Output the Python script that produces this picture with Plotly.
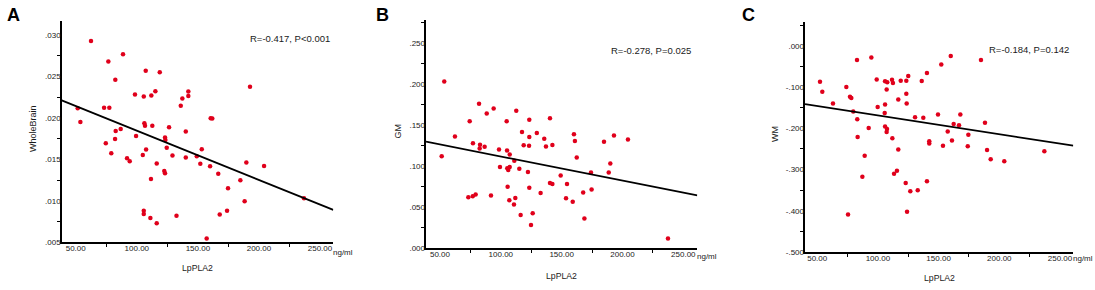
import plotly.graph_objects as go

# ---------------- data ----------------
# Panel A: LpPLA2 vs WholeBrain
a_x = [62.5, 88.7, 76.7, 107.3, 118.8, 82.4, 98.5, 105.7, 111.9, 115.2, 136.0, 51.6, 73.2, 77.5,
       53.8, 106.2, 106.7, 112.7, 126.4, 86.8, 82.7, 99.4, 123.1, 123.4, 82.2, 74.6, 124.5, 107.6,
       79.1, 104.9, 129.2, 92.0, 94.2, 116.3, 122.5, 123.1, 111.6, 105.7, 105.7, 111.1, 116.3, 132.5,
       192.7, 142.2, 142.2, 137.3, 160.5, 161.8, 140.1, 153.2, 140.1, 149.1, 152.0, 160.0, 189.7,
       204.2, 166.7, 184.8, 174.7, 236.9, 188.3, 167.9, 173.9, 157.2]
a_y = [.0293, .0277, .02682, .02573, .02553, .02462, .02285, .02262, .02273, .02325, .02149, .0212,
       .02125, .02125, .01952, .01937, .01908, .01908, .01889, .0187, .01846, .01784, .01767, .01736,
       .01748, .01696, .01642, .01622, .01575, .01555, .01548, .01516, .01481, .01454, .01363, .01336,
       .01265, .00884, .00842, .00794, .00731, .00821, .02379, .0232, .02266, .02238, .01999, .01996,
       .01838, .01626, .01524, .0154, .01449, .01419, .01466, .01422, .01328, .01249, .01155, .01033,
       .00998, .00837, .00884, .00547]
a_fit_x = [38.5, 260.9]
a_fit_y = [.02215, .00892]

# Panel B: LpPLA2 vs GM
b_x = [53.5, 82.1, 94.1, 88.4, 112.7, 74.4, 104.8, 123.4, 140.4, 62.3, 117.4, 129.6, 123.4, 135.7,
       77.1, 82.9, 82.6, 86.7, 118.8, 123.2, 137.1, 98.5, 105.1, 107.3, 111.1, 51.4, 99.3, 105.3,
       106.1, 107.3, 115.2, 122.3, 105.6, 123.4, 132.7, 73.3, 76.9, 79.3, 91.9, 107.0, 111.9, 110.8,
       116.3, 126.2, 124.8, 142.4, 160.1, 160.9, 162.4, 184.8, 193.0, 204.5, 190.0, 174.1, 188.7,
       149.2, 140.4, 142.4, 154.4, 174.6, 167.7, 153.6, 159.1, 168.7, 237.4]
b_y = [.2036, .1765, .1706, .1646, .1679, .1551, .1551, .1567, .1587, .1364, .142, .1408, .1357, .1337,
       .1281, .1265, .1218, .1238, .1257, .125, .1242, .1206, .1194, .1146, .1067, .1123, .0992, .0976,
       .0956, .0992, .0971, .0932, .075, .0738, .0674, .0623, .0635, .0658, .0643, .0587, .0614, .0536,
       .0408, .0429, .0286, .1262, .1393, .131, .1107, .1301, .1376, .1329, .1036, .0924, .0924, .0888,
       .0798, .0786, .0786, .0718, .0682, .0611, .0567, .0364, .0119]
b_fit_x = [38.5, 261.5]
b_fit_y = [.1301, .0646]

# Panel C: LpPLA2 vs WM
c_x = [82.8, 94.6, 52.3, 99.0, 105.9, 107.7, 111.6, 112.4, 118.8, 123.4, 125.0, 74.0, 54.2, 107.2,
       77.0, 78.1, 123.4, 116.8, 63.0, 105.9, 123.7, 99.8, 79.7, 105.6, 83.0, 130.6, 105.9, 107.5,
       92.4, 107.2, 83.3, 111.9, 116.8, 89.1, 115.7, 113.3, 87.2, 122.9, 126.7, 75.4, 124.0,
       160.0, 184.9, 152.2, 140.4, 136.1, 137.4, 149.5, 167.9, 162.4, 166.8, 188.2, 157.5, 174.5,
       142.3, 142.3, 161.0, 153.6, 174.0, 189.9, 237.1, 192.9, 204.1, 132.8, 140.4]
c_y = [-.0344, -.0283, -.0873, -.0816, -.0863, -.0887, -.0825, -.0903, -.0849, -.0849, -.0731, -.0998,
       -.1116, -.1061, -.1234, -.1264, -.1163, -.1304, -.1399, -.1422, -.1399, -.1486, -.1594, -.1627,
       -.1783, -.1729, -.1958, -.2019, -.1995, -.209, -.2208, -.2241, -.2514, -.2665, -.3026, -.3097,
       -.3175, -.3325, -.3521, -.4087, -.4017, -.025, -.0344, -.0455, -.066, -.0856, -.1745, -.1665,
       -.1665, -.1894, -.1925, -.1863, -.2075, -.2153, -.2311, -.2366, -.2295, -.242, -.2436, -.2524,
       -.2554, -.275, -.2797, -.3498, -.3278]
c_fit_x = [39.95, 260.95]
c_fit_y = [-.1415, -.242]

x_tickvals = [50, 100, 150, 200, 250]
x_ticktext = ["50.00", "100.00", "150.00", "200.00", "250.00"]
x_minor = [75, 125, 175, 225]

a_tickvals = [.005, .010, .015, .020, .025, .030]
a_ticktext = [".005", ".010", ".015", ".020", ".025", ".030"]
a_minor = [.0075, .0125, .0175, .0225, .0275]

b_tickvals = [0, .05, .10, .15, .20, .25]
b_ticktext = [".000", ".050", ".100", ".150", ".200", ".250"]
b_minor = [.025, .075, .125, .175, .225, .275]

c_tickvals = [-.5, -.4, -.3, -.2, -.1, 0]
c_ticktext = ["-.500", "-.400", "-.300", "-.200", "-.100", ".000"]
c_minor = [-.45, -.35, -.25, -.15, -.05, .05]

# ---------------- layout helpers ----------------
W, H = 1095, 290
FONT = "Liberation Sans, Arial, sans-serif"
RED = "#e0001b"
TXT = "#1a1a1a"

panels = [
    dict(name="A", x=a_x, y=a_y, fx=a_fit_x, fy=a_fit_y, px=(61.7, 333.3), py=(21.7, 246.7),
         xr=[38.5, 260.9], yr=[.005, .03168], tv=a_tickvals, tt=a_ticktext, mn=a_minor,
         ytitle="WholeBrain", ytx=33, stat="R=-0.417, P<0.001", statx=332, staty=39.5,
         letter=(13, 15), xtitle_y=273, ngy=256.5),
    dict(name="B", x=b_x, y=b_y, fx=b_fit_x, fy=b_fit_y, px=(426, 697.3), py=(20.7, 252.7),
         xr=[38.5, 261.5], yr=[0, .2781], tv=b_tickvals, tt=b_ticktext, mn=b_minor,
         ytitle="GM", ytx=398, stat="R=-0.278, P=0.025", statx=693, staty=51.7,
         letter=(382, 15), xtitle_y=280.5, ngy=261.5),
    dict(name="C", x=c_x, y=c_y, fx=c_fit_x, fy=c_fit_y, px=(805, 1073.3), py=(22.7, 256.7),
         xr=[39.95, 260.95], yr=[-.5, .0566], tv=c_tickvals, tt=c_ticktext, mn=c_minor,
         ytitle="WM", ytx=775.7, stat="R=-0.184, P=0.142", statx=1071, staty=50,
         letter=(748, 15), xtitle_y=283, ngy=263),
]

fig = go.Figure()
annotations = []
layout = {}
n = len(panels)
for i, p in enumerate(panels):
    k = "" if i == 0 else str(i + 1)
    kl = str(i + 1 + n)  # label-only overlay axes
    xa, ya = "x" + k, "y" + k
    xl, yl = "x" + kl, "y" + kl
    fig.add_trace(go.Scatter(x=p["x"], y=p["y"], mode="markers", xaxis=xa, yaxis=ya,
                             marker=dict(size=4.5, color=RED, line=dict(width=0)),
                             showlegend=False, hoverinfo="skip"))
    # regression line drawn on the overlay (label) axes, which share the same ranges
    fig.add_trace(go.Scatter(x=p["fx"], y=p["fy"], mode="lines", xaxis=xl, yaxis=yl,
                             line=dict(color="black", width=1.8), showlegend=False,
                             hoverinfo="skip", cliponaxis=False))
    x0, x1 = p["px"]
    y0, y1 = p["py"]
    # base axes: axis line + tick marks between labels
    layout["xaxis" + k] = dict(
        domain=[x0 / W, x1 / W], range=p["xr"], anchor=ya,
        tickmode="array", tickvals=x_minor, ticks="outside", ticklen=3, tickwidth=1.3,
        tickcolor="black", showticklabels=False,
        showline=True, linecolor="black", linewidth=2, showgrid=False, zeroline=False,
    )
    layout["yaxis" + k] = dict(
        domain=[1 - y1 / H, 1 - y0 / H], range=p["yr"], anchor=xa,
        tickmode="array", tickvals=p["mn"], ticks="outside", ticklen=3, tickwidth=1.3,
        tickcolor="black", showticklabels=False,
        showline=True, linecolor="black", linewidth=2, showgrid=False, zeroline=False,
    )
    # overlay axes: labels only
    layout["xaxis" + kl] = dict(
        overlaying=xa, anchor=ya, side="bottom", range=p["xr"],
        tickmode="array", tickvals=x_tickvals, ticktext=x_ticktext, ticks="",
        showline=False, showgrid=False, zeroline=False,
        tickfont=dict(family=FONT, size=8, color=TXT),
    )
    layout["yaxis" + kl] = dict(
        overlaying=ya, anchor=xa, side="left", range=p["yr"],
        tickmode="array", tickvals=p["tv"], ticktext=p["tt"], ticks="",
        showline=False, showgrid=False, zeroline=False,
        tickfont=dict(family=FONT, size=8, color=TXT),
    )
    # panel letter
    annotations.append(dict(x=p["letter"][0] / W, y=1 - p["letter"][1] / H, xref="paper", yref="paper",
                            text="<b>" + p["name"] + "</b>", showarrow=False,
                            font=dict(family=FONT, size=18, color="black"),
                            xanchor="center", yanchor="middle"))
    # statistics text
    annotations.append(dict(x=p["statx"] / W, y=1 - p["staty"] / H, xref="paper", yref="paper",
                            text=p["stat"], showarrow=False,
                            font=dict(family=FONT, size=9.5, color=TXT),
                            xanchor="right", yanchor="middle"))
    # y-axis title
    annotations.append(dict(x=p["ytx"] / W, y=1 - ((y0 + y1) / 2 - 3) / H, xref="paper", yref="paper",
                            text=p["ytitle"], showarrow=False, textangle=-90,
                            font=dict(family=FONT, size=9, color=TXT),
                            xanchor="center", yanchor="middle"))
    # x-axis title
    annotations.append(dict(x=(x0 + (x1 - x0) * 0.5) / W, y=1 - p["xtitle_y"] / H, xref="paper",
                            yref="paper", text="LpPLA2", showarrow=False,
                            font=dict(family=FONT, size=8.7, color=TXT),
                            xanchor="center", yanchor="middle", borderpad=0))
    # unit after the last tick label
    annotations.append(dict(x=(x1 - 1) / W, y=1 - p["ngy"] / H, xref="paper", yref="paper",
                            text="ng/ml", showarrow=False,
                            font=dict(family=FONT, size=8, color=TXT),
                            xanchor="left", yanchor="middle", borderpad=0))

fig.update_layout(
    width=W, height=H, margin=dict(l=0, r=0, t=0, b=0),
    paper_bgcolor="white", plot_bgcolor="white",
    annotations=annotations, **layout,
)

fig.write_html("out.html", config={"displayModeBar": False},
               post_script="document.body.style.margin='0';document.body.style.padding='0';")
